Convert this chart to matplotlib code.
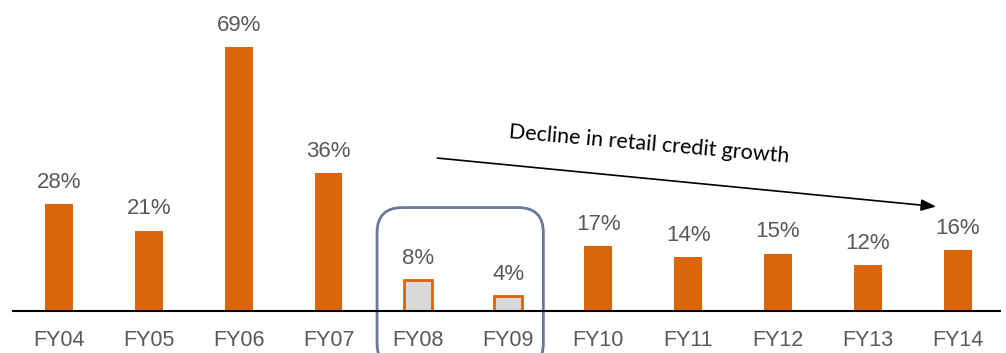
import matplotlib.pyplot as plt
from matplotlib.patches import FancyBboxPatch

# --- data ---
years = ["FY04", "FY05", "FY06", "FY07", "FY08", "FY09", "FY10", "FY11", "FY12", "FY13", "FY14"]
growth = [28, 21, 69, 36, 8, 4, 17, 14, 15, 12, 16]
slowdown = ["FY08", "FY09"]

# --- styling ---
ORANGE = "#DA650B"
GREY_FILL = "#D9D9D9"
TEXT_GREY = "#595959"
BOX_COLOR = "#6B7896"

plt.rcParams['font.family'] = ['Liberation Sans', 'DejaVu Sans']

fig = plt.figure(figsize=(10.06, 3.53), dpi=100)
ax = fig.add_axes([13 / 1006, 42 / 353, 987 / 1006, 311 / 353])

x = list(range(len(years)))
face = [GREY_FILL if y in slowdown else ORANGE for y in years]
bars = ax.bar(x, growth, width=0.31, color=face, edgecolor=ORANGE, linewidth=[2 if y in slowdown else 0 for y in years])

for xi, v in zip(x, growth):
    ax.annotate(f"{v}%", (xi, v), xytext=(0, 8), textcoords="offset points",
                ha="center", va="bottom", fontsize=16, color=TEXT_GREY)

ax.set_xlim(-0.51, 10.47)
ax.set_ylim(0, 81.2)
ax.set_xticks(x)
ax.set_xticklabels(years, fontsize=15.5, color=TEXT_GREY)
ax.tick_params(axis="x", length=0, pad=14)
ax.set_yticks([])
for side in ["top", "left", "right"]:
    ax.spines[side].set_visible(False)
ax.spines["bottom"].set_linewidth(1.5)
ax.spines["bottom"].set_color("black")

# rounded box around the slowdown years
i0, i1 = years.index(slowdown[0]), years.index(slowdown[-1])
box = FancyBboxPatch((i0 - 0.46, -15), (i1 - i0) + 0.85, 42,
                     boxstyle="round,pad=0,rounding_size=0.28", mutation_aspect=23.5,
                     facecolor="none", edgecolor=BOX_COLOR, linewidth=2, clip_on=False)
ax.add_patch(box)

# trend arrow
ax.annotate("", xy=(9.79, 27.2), xytext=(4.18, 40),
            arrowprops=dict(arrowstyle="-|>,head_length=0.9,head_width=0.35", color="black", lw=1.2))
ax.text(6.57, 43.5, "Decline in retail credit growth", rotation=-5, ha="center", va="center",
        fontsize=15.5, color="black", family=["Lato", "DejaVu Sans"], rotation_mode="anchor")

fig.savefig("out.png", dpi=100)
